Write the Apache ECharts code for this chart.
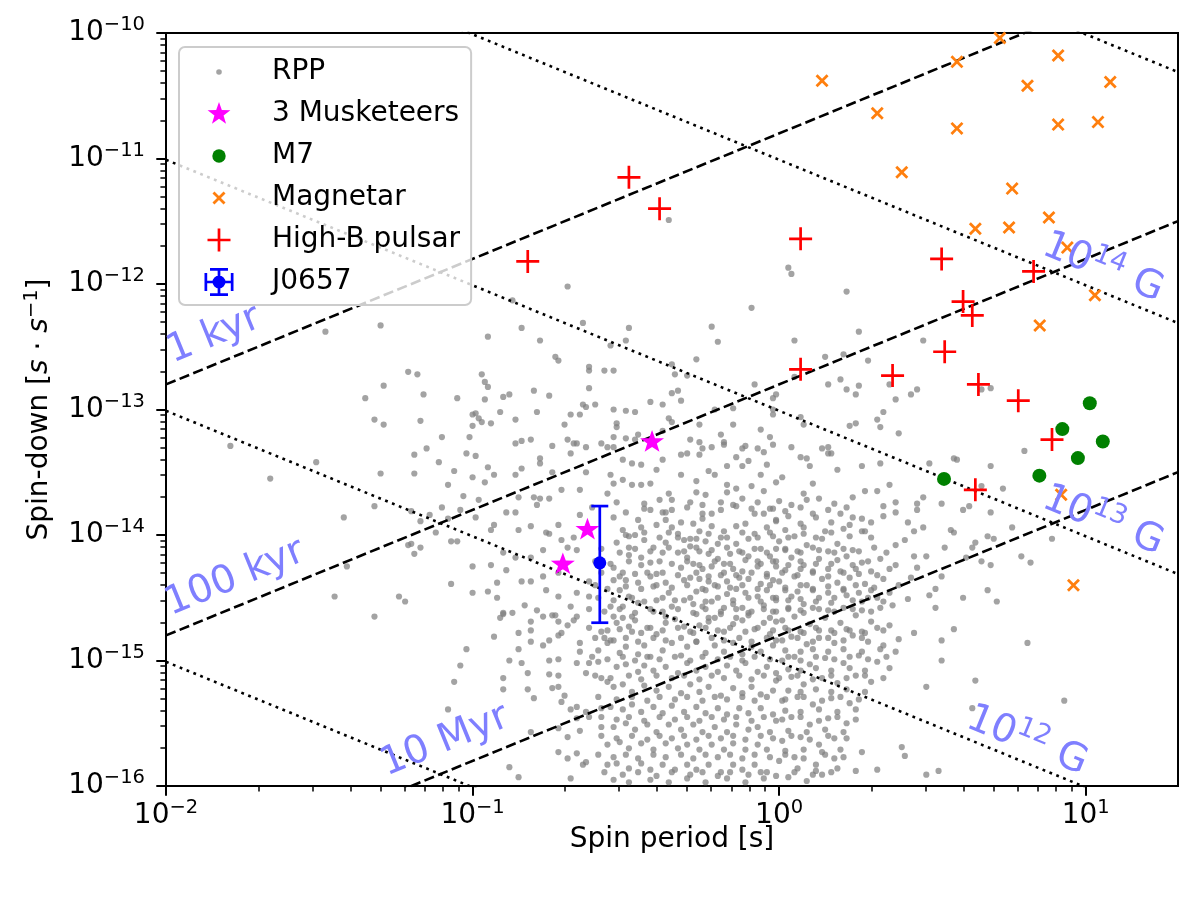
<!DOCTYPE html>
<html>
<head>
<meta charset="utf-8">
<script src="https://cdn.jsdelivr.net/npm/echarts@6/dist/echarts.min.js"></script>
<style>
html, body { margin: 0; padding: 0; background: #fff; }
#chart { width: 1200px; height: 899px; }
</style>
</head>
<body>
<div id="chart"></div>
<script>
/**
 *  P - Pdot diagram (spin period vs spin-down), log10 units on value axes
 */

// radio pulsars, [log10 P, log10 Pdot]
var rppLog = [
  // short periods, sparse
  [-1.48,-12.38],[-1.30,-12.33],[-1.21,-12.70],[-1.18,-12.72],[-1.29,-12.81],[-1.35,-12.91],[-1.16,-12.88],[-1.05,-12.91],
  [-1.32,-13.08],[-1.29,-13.12],[-1.17,-13.09],[-1.00,-13.04],[-1.00,-13.13],[-1.10,-13.22],[-1.01,-13.22],[-1.15,-13.31],
  [-1.19,-13.36],[-1.02,-13.35],[-0.99,-13.37],[-1.11,-13.42],[-1.79,-13.29],[-1.51,-13.42],[-1.66,-13.55],[-1.30,-13.51],
  [-1.19,-13.51],[-1.06,-13.49],[-1.00,-13.54],[-1.08,-13.60],[-1.03,-13.69],[-1.32,-13.77],[-1.42,-13.86],[-1.20,-13.81],
  [-1.10,-13.78],[-1.04,-13.80],[-1.17,-13.89],[-1.14,-13.84],[-1.08,-13.87],[-1.12,-13.98],[-1.21,-14.08],[-1.20,-14.07],
  [-1.17,-14.10],[-1.19,-14.15],[-1.07,-14.05],[-1.05,-14.05],[-1.00,-14.25],[-1.41,-14.25],[-1.45,-14.49],[-1.24,-14.49],
  [-1.22,-14.53],[-1.32,-14.65],[-1.07,-14.39],[-1.00,-14.46],[-1.02,-14.91],[-1.04,-15.04],[-1.06,-15.17],[-1.08,-15.39],
  // upper middle
  [-0.36,-11.49],[-0.69,-12.02],[-0.87,-12.13],[-0.09,-12.19],[-0.84,-12.35],[-0.64,-12.31],[-0.49,-12.35],[-0.22,-12.34],
  [-0.95,-12.42],[-0.78,-12.45],[-0.50,-12.45],[-0.55,-12.49],[-0.20,-12.46],[-0.73,-12.58],[-0.72,-12.61],[-0.27,-12.60],
  [-0.62,-12.66],[-0.62,-12.69],[-0.57,-12.69],[-0.54,-12.69],[-0.35,-12.64],[-0.34,-12.72],[-0.30,-12.73],[-0.97,-12.72],
  [-0.96,-12.78],[-0.95,-12.82],[-0.62,-12.83],[-0.80,-12.85],[-0.88,-12.88],[-0.90,-12.90],[-0.75,-12.89],[-0.96,-12.92],
  [-0.35,-12.87],[-0.33,-12.85],[-0.08,-12.80],[-0.02,-12.91],[-0.01,-12.88],[-0.42,-12.94],[-0.38,-12.96],[-0.32,-12.93],
  [-0.64,-12.96],[-0.63,-12.98],[-0.60,-12.96],[-0.91,-13.02],[-0.79,-13.02],[-0.68,-13.04],[-0.65,-13.04],[-0.54,-13.00],
  [-0.50,-13.01],[-0.47,-13.02],[-0.99,-13.03],[-0.98,-13.07],[-0.97,-13.10],[-0.94,-13.11],[-0.86,-13.08],[-0.70,-13.12],
  [-0.53,-13.11],[-0.53,-13.14],[-0.36,-13.07],[-0.35,-13.10],[-0.26,-13.12],[-0.21,-13.00],[-0.15,-12.99],[-0.15,-13.12],
  [-0.02,-13.04],[-0.02,-13.00],[-0.06,-13.16],[-0.54,-13.22],[-0.50,-13.23],[-0.47,-13.24],[-0.46,-13.20],[-0.38,-13.17],
  [-0.19,-13.20],[-0.29,-13.24],[-0.26,-13.26],[-0.18,-13.26],[-0.11,-13.29],[-0.07,-13.31],[-0.03,-13.22],[-0.86,-13.27],
  [-0.84,-13.25],[-0.81,-13.24],[-0.74,-13.29],[-0.69,-13.24],[-0.67,-13.27],[-0.66,-13.27],[-0.58,-13.27],[-0.56,-13.30],
  [-0.22,-13.30],
  // middle band
  [-0.95,-13.46],[-0.96,-13.58],[-0.93,-13.52],[-0.86,-13.52],[-0.84,-13.47],[-0.78,-13.39],[-0.78,-13.43],[-0.68,-13.35],
  [-0.74,-13.50],[-0.80,-13.70],[-0.78,-13.71],[-0.79,-13.76],[-0.85,-13.70],[-0.98,-13.72],[-0.99,-13.86],[-0.93,-13.92],
  [-0.94,-13.96],[-0.89,-13.82],[-0.86,-13.82],[-0.81,-13.93],[-0.85,-13.96],[-0.75,-13.71],[-0.71,-13.64],[-0.65,-13.64],
  [-0.63,-13.50],[-0.63,-13.30],[-0.55,-13.52],[-0.56,-13.67],[-0.54,-13.59],[-0.61,-13.78],[-0.65,-13.84],[-0.72,-13.92],
  [-0.76,-13.98],[-0.75,-13.99],[-0.71,-14.04],[-0.69,-14.10],[-0.66,-14.12],[-0.67,-14.02],[-0.77,-14.12],[-0.81,-14.18],
  [-0.86,-14.18],[-0.90,-14.14],[-0.94,-14.24],[-0.89,-14.28],[-0.92,-14.38],[-0.95,-14.45],[-0.92,-14.50],[-0.84,-14.37],
  [-0.81,-14.37],[-0.77,-14.33],[-0.72,-14.30],[-0.76,-14.44],[-0.72,-14.49],[-0.66,-14.46],[-0.83,-14.56],[-0.79,-14.60],
  [-0.74,-14.64],[-0.68,-14.57],[-0.66,-14.65],[-0.62,-14.37],[-0.62,-14.49],[-0.90,-14.62],[-0.87,-14.62],
  [-0.54,-13.86],[-0.51,-13.96],[-0.53,-14.06],[-0.50,-14.00],[-0.47,-14.00],[-0.49,-14.10],[-0.49,-14.16],[-0.54,-14.26],
  [-0.54,-14.36],[-0.51,-14.30],[-0.50,-14.36],[-0.46,-14.38],[-0.52,-14.44],[-0.49,-14.49],[-0.55,-14.57],[-0.51,-14.57],
  [-0.46,-14.54],[-0.54,-14.65],[-0.48,-14.65],[-0.44,-14.04],[-0.45,-14.18],[-0.42,-14.22],[-0.41,-14.10],[-0.38,-14.14],
  [-0.37,-14.06],[-0.36,-13.98],[-0.33,-14.02],[-0.43,-14.30],[-0.40,-14.31],[-0.41,-14.41],[-0.37,-14.38],[-0.36,-14.46],
  [-0.40,-14.52],[-0.35,-14.57],[-0.41,-14.61],[-0.37,-14.65],[-0.31,-14.52],[-0.31,-14.36],[-0.32,-14.26],[-0.30,-14.18],
  [-0.33,-14.14],[-0.31,-14.04],[-0.40,-13.92],[-0.37,-13.88],[-0.35,-13.94],[-0.32,-13.90],[-0.44,-13.75],[-0.42,-13.80],
  [-0.38,-13.82],[-0.39,-13.72],[-0.35,-13.72],[-0.35,-13.80],[-0.48,-13.60],[-0.45,-13.60],[-0.48,-13.43],[-0.45,-13.44],
  [-0.40,-13.48],[-0.38,-13.40],[-0.32,-13.36],[-0.30,-13.35],[-0.32,-13.52],[-0.36,-13.67],[-0.51,-13.40],[-0.54,-13.30],
  [-0.42,-13.59],[-0.51,-13.56],[-0.53,-13.74],[-0.50,-13.82],[-0.46,-13.88],[-0.45,-13.94],
  // core, upper half
  [-0.29,-13.74],[-0.27,-13.66],[-0.24,-13.68],[-0.25,-13.76],[-0.22,-13.83],[-0.19,-13.74],[-0.17,-13.66],[-0.15,-13.76],
  [-0.12,-13.71],[-0.09,-13.79],[-0.07,-13.74],[-0.05,-13.83],[-0.02,-13.79],[-0.01,-13.89],[-0.27,-13.57],[-0.23,-13.49],
  [-0.21,-13.52],[-0.17,-13.45],[-0.14,-13.38],[-0.12,-13.45],[-0.10,-13.41],[-0.05,-13.34],[-0.04,-13.44],[-0.12,-13.31],
  [-0.18,-13.28],[-0.25,-13.31],[-0.26,-13.36],[-0.17,-13.60],[-0.14,-13.63],[-0.09,-13.61],[-0.05,-13.65],[-0.01,-13.58],
  [-0.06,-13.52],[-0.28,-13.91],[-0.25,-13.87],[-0.26,-13.97],[-0.22,-13.93],[-0.18,-13.97],[-0.14,-13.93],[-0.11,-13.91],
  [-0.08,-13.99],[-0.04,-13.94],[-0.02,-14.01],[-0.27,-14.03],[-0.24,-14.05],[-0.20,-14.07],[-0.17,-14.02],[-0.14,-14.07],
  [-0.10,-14.03],[-0.06,-14.11],[-0.29,-14.09],[-0.26,-14.13],[-0.23,-14.15],[-0.20,-14.19],[-0.16,-14.15],[-0.13,-14.13],
  [-0.10,-14.17],[-0.07,-14.21],[-0.03,-14.17],[-0.01,-14.11],[-0.28,-14.23],[-0.25,-14.27],[-0.22,-14.25],[-0.18,-14.23],
  [-0.15,-14.27],[-0.12,-14.29],[-0.07,-14.25],[-0.04,-14.31],[-0.01,-14.25],[-0.29,-14.34],[-0.26,-14.35],[-0.23,-14.37],
  [-0.19,-14.32],[-0.17,-14.37],[-0.13,-14.34],[-0.10,-14.35],[-0.06,-14.39],[-0.02,-14.36],[-0.27,-14.45],[-0.24,-14.44],
  [-0.20,-14.41],[-0.17,-14.47],[-0.14,-14.43],[-0.11,-14.46],[-0.07,-14.49],[-0.04,-14.44],[-0.01,-14.50],[-0.28,-14.55],
  [-0.25,-14.57],[-0.22,-14.53],[-0.18,-14.58],[-0.15,-14.55],[-0.12,-14.58],[-0.09,-14.61],[-0.05,-14.56],[-0.02,-14.61],
  [-0.27,-14.63],[-0.23,-14.66],[-0.19,-14.63],[-0.14,-14.66],[-0.10,-14.64],[-0.03,-14.66],
  // lower left
  [-0.90,-14.63],[-0.91,-14.66],[-0.81,-14.69],[-0.77,-14.65],[-0.73,-14.64],[-0.72,-14.69],[-0.69,-14.72],[-0.67,-14.68],
  [-0.93,-14.81],[-0.85,-14.78],[-0.81,-14.76],[-0.72,-14.80],[-0.71,-14.78],[-0.77,-14.88],[-0.75,-14.84],[-0.81,-14.85],
  [-0.65,-14.86],[-0.85,-14.91],[-0.88,-15.00],[-0.84,-15.02],[-0.75,-15.00],[-0.72,-14.99],[-0.66,-15.02],[-0.82,-15.10],
  [-0.75,-15.11],[-0.72,-15.12],[-0.90,-15.14],[-0.90,-15.23],[-0.82,-15.23],[-0.74,-15.22],[-0.72,-15.21],[-0.80,-15.30],
  [-0.70,-15.28],[-0.71,-15.33],[-0.68,-15.39],[-0.66,-15.37],[-0.63,-15.41],[-0.66,-15.46],[-0.62,-15.45],[-0.72,-15.54],
  [-0.65,-15.56],[-0.69,-15.61],[-0.58,-15.53],[-0.72,-15.73],[-0.69,-15.78],[-0.66,-15.74],[-0.64,-15.83],[-0.63,-15.81],
  [-0.88,-15.85],[-0.85,-15.93],[-0.68,-15.94],[-0.81,-15.57],[-0.58,-15.38],
  // core, lower half
  [-0.65,-14.93],[-0.63,-15.10],[-0.62,-15.02],[-0.59,-14.92],[-0.59,-15.01],[-0.58,-15.14],[-0.56,-15.17],[-0.57,-14.82],
  [-0.56,-14.86],[-0.54,-14.84],[-0.56,-14.76],[-0.53,-14.70],[-0.51,-14.66],[-0.49,-14.73],[-0.47,-14.68],[-0.45,-14.78],
  [-0.43,-14.74],[-0.40,-14.79],[-0.37,-14.70],[-0.34,-14.67],[-0.31,-14.73],[-0.28,-14.78],[-0.26,-14.72],[-0.23,-14.69],
  [-0.21,-14.66],[-0.18,-14.77],[-0.15,-14.71],[-0.12,-14.68],[-0.08,-14.75],[-0.05,-14.70],[-0.03,-14.79],[-0.01,-14.69],
  [-0.52,-14.94],[-0.50,-14.89],[-0.46,-14.95],[-0.44,-14.88],[-0.42,-14.97],[-0.38,-14.92],[-0.35,-14.86],[-0.32,-14.96],
  [-0.30,-14.89],[-0.27,-14.85],[-0.24,-14.94],[-0.21,-14.88],[-0.18,-14.93],[-0.15,-14.86],[-0.12,-14.95],[-0.09,-14.89],
  [-0.06,-14.93],[-0.02,-14.88],[-0.53,-15.05],[-0.50,-15.03],[-0.46,-15.09],[-0.44,-15.04],[-0.41,-15.08],[-0.37,-15.05],
  [-0.33,-15.10],[-0.30,-15.02],[-0.27,-15.08],[-0.24,-15.05],[-0.20,-15.09],[-0.17,-15.04],[-0.14,-15.08],[-0.11,-15.02],
  [-0.07,-15.09],[-0.04,-15.05],[-0.01,-15.10],[-0.54,-15.21],[-0.51,-15.19],[-0.48,-15.25],[-0.44,-15.20],[-0.40,-15.24],
  [-0.36,-15.21],[-0.32,-15.26],[-0.29,-15.19],[-0.26,-15.25],[-0.23,-15.21],[-0.19,-15.28],[-0.15,-15.22],[-0.12,-15.26],
  [-0.09,-15.21],[-0.06,-15.27],[-0.02,-15.24],[-0.55,-15.37],[-0.51,-15.39],[-0.48,-15.35],[-0.45,-15.41],[-0.41,-15.37],
  [-0.38,-15.42],[-0.35,-15.36],[-0.31,-15.41],[-0.27,-15.37],[-0.24,-15.42],[-0.20,-15.38],[-0.17,-15.43],[-0.13,-15.38],
  [-0.10,-15.42],[-0.06,-15.38],[-0.02,-15.43],[-0.54,-15.53],[-0.50,-15.50],[-0.47,-15.55],[-0.43,-15.51],[-0.40,-15.57],
  [-0.36,-15.51],[-0.32,-15.55],[-0.28,-15.51],[-0.25,-15.57],[-0.21,-15.53],[-0.17,-15.57],[-0.14,-15.51],[-0.10,-15.55],
  [-0.07,-15.53],[-0.03,-15.57],[-0.56,-15.67],[-0.52,-15.65],[-0.49,-15.70],[-0.45,-15.66],[-0.41,-15.71],[-0.37,-15.66],
  [-0.33,-15.70],[-0.30,-15.67],[-0.26,-15.71],[-0.22,-15.67],[-0.18,-15.71],[-0.15,-15.66],[-0.11,-15.71],[-0.07,-15.67],
  [-0.04,-15.71],[-0.56,-15.83],[-0.53,-15.82],[-0.49,-15.86],[-0.45,-15.82],[-0.42,-15.87],[-0.38,-15.83],[-0.34,-15.87],
  [-0.30,-15.83],[-0.27,-15.87],[-0.23,-15.83],[-0.19,-15.89],[-0.15,-15.83],[-0.12,-15.87],[-0.08,-15.83],[-0.04,-15.89],
  [-0.54,-15.95],[-0.49,-15.97],[-0.42,-15.95],[-0.36,-15.97],[-0.30,-15.94],[-0.24,-15.97],[-0.17,-15.94],[-0.11,-15.97],
  [-0.05,-15.94],
  // core, filling between the rows above
  [-0.44,-13.79],[-0.37,-13.82],[-0.30,-13.78],[-0.25,-13.83],[-0.19,-13.80],[-0.14,-13.77],[-0.08,-13.83],[-0.03,-13.79],
  [0.02,-13.81],[0.07,-13.78],[0.11,-13.83],[0.16,-13.80],[0.22,-13.78],
  [-0.49,-14.01],[-0.44,-13.98],[-0.39,-14.02],[-0.33,-13.99],[-0.29,-14.03],[-0.23,-13.99],[-0.19,-14.02],[-0.12,-13.98],
  [-0.07,-14.02],[-0.03,-13.98],[0.03,-14.02],[0.08,-13.99],[0.12,-14.02],[0.17,-13.98],[0.23,-14.01],[0.27,-13.97],
  [-0.58,-14.11],[-0.52,-14.14],[-0.47,-14.11],[-0.42,-14.13],[-0.36,-14.10],[-0.31,-14.13],[-0.27,-14.10],[-0.22,-14.12],
  [-0.17,-14.10],[-0.12,-14.14],[-0.08,-14.11],[-0.04,-14.14],[0.02,-14.11],[0.06,-14.13],[0.11,-14.10],[0.16,-14.13],
  [0.21,-14.11],[0.26,-14.13],[0.31,-14.10],
  [-0.60,-14.21],[-0.55,-14.23],[-0.49,-14.21],[-0.45,-14.24],[-0.39,-14.21],[-0.35,-14.23],[-0.30,-14.21],[-0.26,-14.24],
  [-0.21,-14.21],[-0.16,-14.23],[-0.11,-14.20],[-0.06,-14.23],[-0.02,-14.21],[0.03,-14.24],[0.07,-14.21],[0.12,-14.23],
  [0.19,-14.20],[0.24,-14.24],[0.29,-14.21],
  [-0.58,-14.30],[-0.52,-14.33],[-0.47,-14.31],[-0.42,-14.33],[-0.38,-14.30],[-0.33,-14.32],[-0.27,-14.30],[-0.23,-14.33],
  [-0.18,-14.30],[-0.14,-14.32],[-0.09,-14.30],[-0.04,-14.33],[0.01,-14.30],[0.06,-14.32],[0.11,-14.30],[0.16,-14.33],
  [0.21,-14.30],[0.26,-14.31],[0.32,-14.32],
  [-0.60,-14.40],[-0.56,-14.43],[-0.50,-14.41],[-0.45,-14.43],[-0.40,-14.40],[-0.35,-14.42],[-0.30,-14.40],[-0.25,-14.43],
  [-0.21,-14.40],[-0.16,-14.42],[-0.12,-14.40],[-0.07,-14.43],[-0.03,-14.40],[0.02,-14.42],[0.07,-14.40],[0.11,-14.43],
  [0.16,-14.41],[0.21,-14.43],[0.25,-14.40],[0.31,-14.42],
  [-0.59,-14.50],[-0.54,-14.52],[-0.48,-14.50],[-0.44,-14.53],[-0.38,-14.50],[-0.34,-14.52],[-0.29,-14.50],[-0.24,-14.53],
  [-0.20,-14.50],[-0.15,-14.52],[-0.10,-14.50],[-0.06,-14.53],[-0.02,-14.50],[0.03,-14.52],[0.07,-14.51],[0.12,-14.53],
  [0.18,-14.50],[0.24,-14.52],[0.29,-14.50],[0.34,-14.53],
  [-0.62,-14.59],[-0.57,-14.61],[-0.52,-14.59],[-0.47,-14.62],[-0.42,-14.59],[-0.38,-14.61],[-0.33,-14.59],[-0.28,-14.62],
  [-0.24,-14.59],[-0.19,-14.61],[-0.14,-14.59],[-0.10,-14.62],[-0.05,-14.59],[-0.01,-14.61],[0.03,-14.59],[0.08,-14.62],
  [0.13,-14.59],[0.18,-14.61],[0.24,-14.59],[0.30,-14.61],
  [-0.62,-14.74],[-0.58,-14.77],[-0.52,-14.75],[-0.48,-14.77],[-0.42,-14.74],[-0.38,-14.76],[-0.33,-14.74],[-0.29,-14.77],
  [-0.24,-14.74],[-0.20,-14.76],[-0.16,-14.74],[-0.11,-14.77],[-0.07,-14.74],[-0.02,-14.76],[0.02,-14.74],[0.07,-14.77],
  [0.12,-14.74],[0.17,-14.76],[0.22,-14.75],[0.27,-14.77],[0.32,-14.74],
  [-0.60,-14.82],[-0.55,-14.84],[-0.50,-14.82],[-0.46,-14.85],[-0.41,-14.82],[-0.37,-14.84],[-0.32,-14.82],[-0.27,-14.85],
  [-0.22,-14.82],[-0.18,-14.84],[-0.13,-14.82],[-0.09,-14.85],[-0.04,-14.82],[0.01,-14.84],[0.06,-14.82],[0.11,-14.85],
  [0.16,-14.82],[0.21,-14.84],[0.27,-14.82],
  [-0.61,-14.97],[-0.56,-14.99],[-0.51,-14.97],[-0.47,-15.00],[-0.43,-14.97],[-0.39,-14.99],[-0.34,-14.97],[-0.29,-15.00],
  [-0.25,-14.97],[-0.20,-14.99],[-0.16,-14.97],[-0.12,-15.00],[-0.08,-14.97],[-0.03,-14.99],[0.03,-14.97],[0.07,-15.00],
  [0.12,-14.97],[0.18,-14.99],[0.23,-14.97],[0.29,-14.99],[0.35,-14.97],
  [-0.60,-15.12],[-0.55,-15.14],[-0.49,-15.12],[-0.45,-15.15],[-0.40,-15.12],[-0.35,-15.14],[-0.31,-15.12],[-0.26,-15.15],
  [-0.22,-15.12],[-0.18,-15.14],[-0.13,-15.12],[-0.09,-15.15],[-0.05,-15.12],[0.00,-15.14],[0.06,-15.12],[0.11,-15.15],
  [0.17,-15.12],[0.22,-15.14],[0.28,-15.12],[0.34,-15.14],
  [-0.59,-15.29],[-0.53,-15.31],[-0.48,-15.29],[-0.43,-15.32],[-0.39,-15.29],[-0.34,-15.31],[-0.30,-15.29],[-0.25,-15.32],
  [-0.21,-15.29],[-0.17,-15.31],[-0.12,-15.29],[-0.08,-15.32],[-0.04,-15.29],[0.02,-15.31],[0.08,-15.29],[0.14,-15.32],
  [0.20,-15.29],[0.26,-15.31],
  [-0.58,-15.45],[-0.53,-15.47],[-0.49,-15.45],[-0.44,-15.48],[-0.39,-15.45],[-0.34,-15.47],[-0.30,-15.45],[-0.26,-15.48],
  [-0.22,-15.45],[-0.18,-15.47],[-0.14,-15.45],[-0.09,-15.48],[-0.05,-15.45],[0.01,-15.47],[0.07,-15.45],[0.13,-15.48],
  [0.19,-15.45],[0.25,-15.47],
  [-0.58,-15.60],[-0.53,-15.62],[-0.48,-15.60],[-0.43,-15.63],[-0.39,-15.60],[-0.35,-15.62],[-0.31,-15.60],[-0.27,-15.63],
  [-0.23,-15.60],[-0.19,-15.62],[-0.15,-15.60],[-0.11,-15.63],[-0.06,-15.60],[-0.02,-15.62],[0.04,-15.60],[0.10,-15.63],
  [0.16,-15.60],[0.22,-15.62],
  [-0.59,-15.75],[-0.54,-15.77],[-0.50,-15.75],[-0.46,-15.78],[-0.41,-15.75],[-0.37,-15.77],[-0.32,-15.75],[-0.28,-15.78],
  [-0.24,-15.75],[-0.20,-15.77],[-0.16,-15.75],[-0.12,-15.78],[-0.08,-15.75],[-0.03,-15.77],[0.02,-15.75],[0.08,-15.78],
  [0.15,-15.75],[0.21,-15.77],
  [-0.57,-15.89],[-0.51,-15.91],[-0.46,-15.89],[-0.40,-15.92],[-0.35,-15.89],[-0.29,-15.91],[-0.25,-15.89],[-0.20,-15.92],
  [-0.16,-15.89],[-0.10,-15.91],[-0.06,-15.89],[-0.01,-15.92],[0.05,-15.89],[0.11,-15.91],[0.17,-15.89],
  // P > 1 s, upper part
  [0.03,-11.87],[0.04,-11.92],[0.22,-12.06],[0.26,-12.38],[0.05,-12.45],[0.47,-12.45],[0.15,-12.58],[0.21,-12.56],
  [0.29,-12.61],[0.05,-12.74],[0.16,-12.80],[0.20,-12.76],[0.22,-12.84],[0.25,-12.88],[0.26,-12.81],[0.36,-12.80],
  [0.38,-12.92],[0.43,-12.88],[0.45,-12.84],[0.66,-12.84],[0.69,-12.83],[0.07,-13.06],[0.08,-13.12],[0.34,-13.02],
  [0.32,-13.08],[0.33,-13.14],[0.23,-13.13],[0.25,-13.11],[0.39,-13.19],[-0.02,-13.28],[0.04,-13.30],[0.14,-13.31],
  [0.16,-13.30],[0.16,-13.35],[0.07,-13.38],[0.09,-13.39],[0.57,-13.39],[0.80,-13.33],
  // P > 1 s, lower part
  [0.10,-13.45],[0.17,-13.35],[0.19,-13.48],[0.27,-13.45],[0.33,-13.43],[0.49,-13.43],[0.58,-13.40],[0.69,-13.45],
  [0.01,-13.54],[0.11,-13.59],[0.08,-13.67],[0.09,-13.72],[0.24,-13.70],[0.28,-13.65],[0.32,-13.65],[0.36,-13.60],
  [0.38,-13.74],[0.45,-13.75],[0.45,-13.80],[0.47,-13.70],[0.53,-13.75],[0.60,-13.80],[0.62,-13.77],[0.66,-13.61],
  [0.73,-13.63],[0.69,-13.82],[0.17,-13.90],[0.20,-13.83],[0.24,-13.86],[0.30,-13.90],[0.34,-13.77],[0.38,-13.82],
  [0.42,-13.90],[0.44,-13.97],[0.47,-13.94],[0.56,-13.96],[0.57,-13.98],[0.76,-13.94],[0.68,-14.01],[0.70,-14.03],
  [0.64,-14.06],[0.63,-14.10],[0.54,-14.10],[0.48,-14.17],[0.44,-14.17],[0.61,-14.18],[0.66,-14.21],[0.69,-14.24],
  [0.79,-14.17],[0.82,-14.22],[0.89,-14.03],[0.45,-14.26],[0.43,-14.34],[0.53,-14.33],[0.51,-14.43],[0.49,-14.48],
  [0.60,-14.50],[0.68,-14.44],[0.71,-14.53],[0.51,-14.58],[0.57,-14.75],[0.44,-14.78],[0.53,-14.84],[0.53,-15.00],
  [0.81,-14.86],[0.64,-15.16],[0.48,-15.21],[0.93,-15.32],[0.63,-15.38],[0.40,-15.69],[0.41,-15.76],[0.48,-15.91],
  [0.52,-15.88],[0.32,-15.87],
  [0.00,-13.73],[0.04,-13.76],[0.13,-13.71],[0.18,-13.75],
  [-0.01,-13.88],[0.03,-13.85],[0.07,-13.91],[0.12,-13.86],[0.23,-13.92],[0.27,-13.87],[0.34,-13.85],
  [0.00,-14.05],[0.05,-14.01],[0.09,-14.08],[0.14,-14.03],[0.19,-14.07],[0.30,-14.02],[0.38,-14.08],[0.41,-14.04],
  [-0.01,-14.21],[0.04,-14.18],[0.08,-14.24],[0.13,-14.19],[0.17,-14.23],[0.22,-14.17],[0.27,-14.22],[0.33,-14.19],[0.38,-14.24],
  [0.00,-14.37],[0.05,-14.33],[0.09,-14.40],[0.14,-14.35],[0.19,-14.38],[0.23,-14.34],[0.28,-14.39],[0.34,-14.35],[0.39,-14.40],
  [-0.01,-14.52],[0.04,-14.49],[0.08,-14.55],[0.13,-14.50],[0.17,-14.54],[0.22,-14.48],[0.27,-14.53],[0.32,-14.50],[0.37,-14.56],[0.42,-14.51],
  [0.01,-14.68],[0.05,-14.65],[0.10,-14.71],[0.15,-14.66],[0.20,-14.70],[0.25,-14.64],[0.30,-14.69],[0.36,-14.72],
  [-0.01,-14.84],[0.04,-14.81],[0.09,-14.87],[0.13,-14.82],[0.18,-14.86],[0.24,-14.80],[0.29,-14.85],[0.34,-14.88],[0.39,-14.83],
  [0.01,-15.00],[0.05,-14.97],[0.10,-15.03],[0.15,-14.98],[0.21,-15.02],[0.26,-14.96],[0.32,-15.01],
  [-0.01,-15.16],[0.04,-15.13],[0.08,-15.19],[0.14,-15.14],[0.19,-15.18],[0.25,-15.12],[0.30,-15.17],
  [0.01,-15.32],[0.06,-15.29],[0.11,-15.35],[0.17,-15.30],[0.23,-15.34],
  [-0.01,-15.48],[0.04,-15.45],[0.10,-15.51],[0.16,-15.46],[0.22,-15.50],
  [0.01,-15.64],[0.07,-15.61],[0.13,-15.67],[0.18,-15.62],
  [0.00,-15.80],[0.05,-15.77],[0.12,-15.83],[0.18,-15.78],
  [0.03,-15.93],[0.09,-15.96],[0.14,-15.91],
  // P > 1 s, filling the core
  [0.02,-13.96],[0.08,-13.94],[0.15,-13.97],[0.21,-13.95],[0.28,-13.97],
  [0.02,-14.12],[0.07,-14.14],[0.13,-14.12],[0.18,-14.14],[0.24,-14.12],[0.35,-14.14],
  [0.02,-14.28],[0.07,-14.27],[0.11,-14.29],[0.16,-14.27],[0.20,-14.29],[0.25,-14.27],[0.30,-14.29],[0.36,-14.27],
  [0.02,-14.44],[0.06,-14.45],[0.11,-14.44],[0.16,-14.46],[0.21,-14.44],[0.26,-14.46],[0.30,-14.44],[0.36,-14.46],
  [0.03,-14.58],[0.07,-14.60],[0.11,-14.58],[0.16,-14.60],[0.21,-14.58],[0.27,-14.60],[0.33,-14.58],
  [0.03,-14.76],[0.08,-14.78],[0.13,-14.76],[0.18,-14.78],[0.23,-14.76],[0.28,-14.78],[0.34,-14.76],
  [0.02,-14.92],[0.07,-14.93],[0.11,-14.91],[0.16,-14.93],[0.21,-14.91],[0.27,-14.93],[0.33,-14.91],[0.38,-14.93],
  [0.03,-15.07],[0.07,-15.08],[0.12,-15.06],[0.17,-15.08],[0.23,-15.06],[0.28,-15.08],[0.36,-15.06],
  [0.03,-15.24],[0.07,-15.25],[0.12,-15.23],[0.17,-15.25],[0.22,-15.23],[0.28,-15.25],
  [0.02,-15.40],[0.07,-15.41],[0.13,-15.39],[0.19,-15.41],[0.25,-15.39],
  [0.03,-15.56],[0.09,-15.57],[0.15,-15.55],[0.21,-15.57],
  [0.02,-15.72],[0.08,-15.71],[0.14,-15.73],[0.20,-15.71],[0.27,-15.73],
  [0.06,-15.86],[0.12,-15.88],[0.19,-15.86],[0.25,-15.88]
];

// [P s, Pdot]
var musketeers = [[0.237, 1.10e-14], [0.385, 5.50e-14], [0.197, 5.83e-15]];
var m7 = [[3.45, 2.8e-14], [8.39, 6.98e-14], [11.37, 5.56e-14], [10.31, 1.12e-13], [7.06, 2.97e-14], [9.43, 4.1e-14]];

// [log10 P, log10 Pdot]
var magnetarLog = [
  [0.14,-10.38],[0.32,-10.64],[0.58,-10.23],[0.72,-10.04],[0.58,-10.76],[0.81,-10.42],[0.91,-10.18],[1.08,-10.39],
  [0.91,-10.73],[1.04,-10.71],[0.40,-11.11],[0.76,-11.24],[0.64,-11.56],[0.75,-11.55],[0.88,-11.47],[0.94,-11.71],
  [1.03,-12.09],[0.85,-12.33],[0.92,-13.68],[0.96,-14.40]
];
var highBLog = [
  [-0.49,-11.15],[-0.39,-11.40],[-0.82,-11.82],[0.07,-11.64],[0.53,-11.80],[0.83,-11.90],[0.60,-12.14],[0.63,-12.25],
  [0.54,-12.54],[0.07,-12.68],[0.37,-12.73],[0.65,-12.80],[0.78,-12.93],[0.89,-13.24],[0.64,-13.64]
];

var j0657P = 0.26, j0657Pdot = 6e-15, j0657Lo = 2e-15, j0657Hi = 1.7e-14;

var ageYears = [1e3, 1e5, 1e7];
var bFields = [1e11, 1e12, 1e13, 1e14, 1e15];
var xTicks = [-2, -1, 0, 1];
var yTicks = [-16, -15, -14, -13, -12, -11, -10];

var L10 = Math.log10;
var xMin = -2, xMax = L10(20), yMin = -16, yMax = -10;
var YEAR = 3.156e7;
var FONT = 'DejaVu Sans';

var xMinor = [], yMinor = [];
for (var n = -2; n <= 1; n++) for (var k = 2; k <= 9; k++) { if (n + L10(k) < xMax - 1e-6) xMinor.push(n + L10(k)); }
for (n = -16; n <= -11; n++) for (k = 2; k <= 9; k++) yMinor.push(n + L10(k));

function toLog(arr) { return arr.map(function (d) { return [L10(d[0]), L10(d[1])]; }); }

// tau = P / (2 Pdot)
function ageLine(t) { var c = L10(2 * t * YEAR); return [[xMin, xMin - c], [xMax, xMax - c]]; }
// B = 3.2e19 sqrt(P Pdot)
function bLine(B) { var c = 2 * L10(B / 3.2e19); return [[xMin, c - xMin], [xMax, c - xMax]]; }

// marker shapes
function poly(pts, cx, cy) {
  return pts.map(function (p, i) { return (i ? 'L' : 'M') + (p[0] + cx).toFixed(2) + ' ' + (p[1] + cy).toFixed(2); }).join(' ') + ' Z';
}
function circ(r, cx, cy) {
  return 'M' + (cx + r) + ' ' + cy + ' A' + r + ' ' + r + ' 0 1 1 ' + (cx - r) + ' ' + cy +
         ' A' + r + ' ' + r + ' 0 1 1 ' + (cx + r) + ' ' + cy + ' Z';
}
function rect(x1, y1, x2, y2) { return 'M' + x1 + ' ' + y1 + ' L' + x2 + ' ' + y1 + ' L' + x2 + ' ' + y2 + ' L' + x1 + ' ' + y2 + ' Z'; }
function starPts(R, r) {
  var p = [];
  for (var i = 0; i < 10; i++) { var a = -Math.PI / 2 + i * Math.PI / 5, rr = i % 2 ? r : R; p.push([rr * Math.cos(a), rr * Math.sin(a)]); }
  return p;
}
function plusPts(L, t) {
  return [[-t,-L],[t,-L],[t,-t],[L,-t],[L,t],[t,t],[t,L],[-t,L],[-t,t],[-L,t],[-L,-t],[-t,-t]];
}
function rot45(pts) { var c = Math.SQRT1_2; return pts.map(function (p) { return [(p[0] - p[1]) * c, (p[0] + p[1]) * c]; }); }

var STAR = starPts(12, 4.8), PLUS = plusPts(11.5, 1.35), CROSS = rot45(plusPts(7.8, 1.4));

// legend icons: 84x34 box, marker centred at (36,17)
var LB = 'path://M0 0 M84 34 ';
function errIcon(cx, cy) {
  return rect(cx - 14.5, cy - 1.35, cx + 14.5, cy + 1.35) + ' ' + rect(cx - 1.35, cy - 14, cx + 1.35, cy + 14) + ' ' +
    rect(cx - 14.5, cy - 9, cx - 11.8, cy + 9) + ' ' + rect(cx + 11.8, cy - 9, cx + 14.5, cy + 9) + ' ' +
    rect(cx - 9, cy - 14, cx + 9, cy - 11.3) + ' ' + rect(cx - 9, cy + 11.3, cx + 9, cy + 14) + ' ' + circ(6.5, cx, cy);
}

var ANG = 0.388;
var lineLabels = [
  { text: '1 kyr', x: 214, y: 335, rot: ANG },
  { text: '100 kyr', x: 235, y: 578, rot: ANG },
  { text: '10 Myr', x: 445, y: 741, rot: ANG },
  { text: '10{s|14} G', x: 1103, y: 268, rot: -ANG },
  { text: '10{s|13} G', x: 1103, y: 521, rot: -ANG },
  { text: '10{s|12} G', x: 1027, y: 741, rot: -ANG }
];

function supLabel(v) { return '{b|10}{s|' + (v < 0 ? '\u2212' : '') + Math.abs(v) + '}'; }
var tickRich = {
  b: { fontSize: 28, fontFamily: FONT, color: '#000', lineHeight: 36 },
  s: { fontSize: 19.5, fontFamily: FONT, color: '#000', lineHeight: 22, verticalAlign: 'top' }
};

var lineSeries = [];
ageYears.forEach(function (t) {
  lineSeries.push({ type: 'line', data: ageLine(t), showSymbol: false, symbol: 'none', silent: true, z: 3,
    lineStyle: { color: '#000', width: 2.6, type: [10.3, 4.4], cap: 'butt' } });
});
bFields.forEach(function (B) {
  lineSeries.push({ type: 'line', data: bLine(B), showSymbol: false, symbol: 'none', silent: true, z: 3,
    lineStyle: { color: '#000', width: 2.6, type: [2.8, 4.6], cap: 'butt' } });
});

var chart = echarts.init(document.getElementById('chart'));

option = {
  animation: false,
  grid: { left: 166, right: 22, top: 33, bottom: 113, show: true, borderColor: '#000', borderWidth: 2, backgroundColor: 'transparent' },
  legend: {
    orient: 'vertical', left: 179, top: 47,
    padding: [8, 11, 6, 4], itemGap: 8, itemWidth: 84, itemHeight: 34,
    symbolKeepAspect: false,
    backgroundColor: 'rgba(255,255,255,0.8)', borderColor: '#cccccc', borderWidth: 2, borderRadius: 6,
    textStyle: { fontSize: 28, fontFamily: FONT, color: '#000', lineHeight: 34 },
    data: [
      { name: 'RPP', icon: LB + circ(2.8, 36, 17) },
      { name: '3 Musketeers', icon: LB + poly(STAR, 36, 17) },
      { name: 'M7', icon: LB + circ(6.7, 36, 17) },
      { name: 'Magnetar', icon: LB + poly(CROSS, 36, 17) },
      { name: 'High-B pulsar', icon: LB + poly(PLUS, 36, 17) },
      { name: 'J0657', icon: LB + errIcon(36, 17) }
    ]
  },
  xAxis: [
    {
      type: 'value', min: xMin, max: xMax, position: 'bottom',
      name: 'Spin period [s]', nameLocation: 'middle', nameGap: 40, nameMoveOverlap: false,
      nameTextStyle: { fontSize: 28, fontFamily: FONT, color: '#000' },
      axisLine: { onZero: false, lineStyle: { color: '#000', width: 2 } },
      splitLine: { show: false },
      axisTick: { customValues: xTicks, length: 9.7, lineStyle: { color: '#000', width: 2 } },
      axisLabel: { customValues: xTicks, margin: 12, formatter: supLabel, rich: tickRich }
    },
    {
      type: 'value', min: xMin, max: xMax, position: 'bottom',
      axisLine: { show: false, onZero: false }, splitLine: { show: false }, axisLabel: { show: false },
      axisTick: { customValues: xMinor, length: 5.6, lineStyle: { color: '#000', width: 1.5 } }
    }
  ],
  yAxis: [
    {
      type: 'value', min: yMin, max: yMax, position: 'left',
      name: '{n|Spin-down [}{i|s}{n| \u00b7 }{i|s}{s|\u22121}{n|]}', nameLocation: 'middle', nameGap: 108, nameRotate: 90,
      nameTextStyle: {
        rich: {
          n: { fontSize: 28, fontFamily: FONT, color: '#000', lineHeight: 36 },
          i: { fontSize: 28, fontFamily: FONT, color: '#000', fontStyle: 'italic', lineHeight: 36 },
          s: { fontSize: 19.5, fontFamily: FONT, color: '#000', lineHeight: 22, verticalAlign: 'top' }
        }
      },
      axisLine: { onZero: false, lineStyle: { color: '#000', width: 2 } },
      splitLine: { show: false },
      axisTick: { customValues: yTicks, length: 9.7, lineStyle: { color: '#000', width: 2 } },
      axisLabel: { customValues: yTicks, margin: 21, formatter: supLabel, rich: tickRich }
    },
    {
      type: 'value', min: yMin, max: yMax, position: 'left',
      axisLine: { show: false, onZero: false }, splitLine: { show: false }, axisLabel: { show: false },
      axisTick: { customValues: yMinor, length: 5.6, lineStyle: { color: '#000', width: 1.5 } }
    }
  ],
  graphic: lineLabels.map(function (l) {
    return {
      type: 'text', x: l.x, y: l.y, rotation: l.rot, z: 50, silent: true,
      style: {
        text: l.text, fill: '#7f7fff', fontSize: 39, fontFamily: FONT, lineHeight: 48,
        align: 'center', verticalAlign: 'middle',
        rich: { s: { fill: '#7f7fff', fontSize: 27, fontFamily: FONT, lineHeight: 28, verticalAlign: 'top' } }
      }
    };
  }),
  series: lineSeries.concat([
    {
      name: 'RPP', type: 'scatter', data: rppLog, symbol: 'circle', symbolSize: 6.2, z: 2, silent: true,
      itemStyle: { color: 'rgba(128,128,128,0.72)', opacity: 1 }
    },
    {
      name: '3 Musketeers', type: 'scatter', data: toLog(musketeers), z: 4,
      symbol: 'path://M0 -12 M0 12 ' + poly(STAR, 0, 0), symbolSize: 24, itemStyle: { color: '#ff00ff', opacity: 1 }
    },
    {
      name: 'M7', type: 'scatter', data: toLog(m7), z: 4, symbol: 'circle', symbolSize: 14,
      itemStyle: { color: '#008000', opacity: 1 }
    },
    {
      name: 'Magnetar', type: 'scatter', data: magnetarLog, z: 4,
      symbol: 'path://' + poly(CROSS, 0, 0), symbolSize: 13, itemStyle: { color: '#ff7f0e', opacity: 1 }
    },
    {
      name: 'High-B pulsar', type: 'scatter', data: highBLog, z: 4,
      symbol: 'path://' + poly(PLUS, 0, 0), symbolSize: 23, itemStyle: { color: '#ff0000', opacity: 1 }
    },
    {
      name: 'J0657', type: 'scatter', data: [[L10(j0657P), L10(j0657Pdot)]], z: 6,
      symbol: 'circle', symbolSize: 13, itemStyle: { color: '#0000ff', opacity: 1 }
    },
    {
      name: 'J0657', type: 'custom', z: 5,
      data: [[L10(j0657P), L10(j0657Lo), L10(j0657Hi)]],
      encode: { x: 0, y: [1, 2] },
      renderItem: function (params, api) {
        var lo = api.coord([api.value(0), api.value(1)]);
        var hi = api.coord([api.value(0), api.value(2)]);
        var cap = 8.5;
        var st = { stroke: '#0000ff', lineWidth: 2.7, fill: null };
        return {
          type: 'group',
          children: [
            { type: 'line', shape: { x1: lo[0], y1: lo[1], x2: hi[0], y2: hi[1] }, style: st },
            { type: 'line', shape: { x1: lo[0] - cap, y1: lo[1], x2: lo[0] + cap, y2: lo[1] }, style: st },
            { type: 'line', shape: { x1: hi[0] - cap, y1: hi[1], x2: hi[0] + cap, y2: hi[1] }, style: st }
          ]
        };
      }
    }
  ])
};

chart.setOption(option);
</script>
</body>
</html>
